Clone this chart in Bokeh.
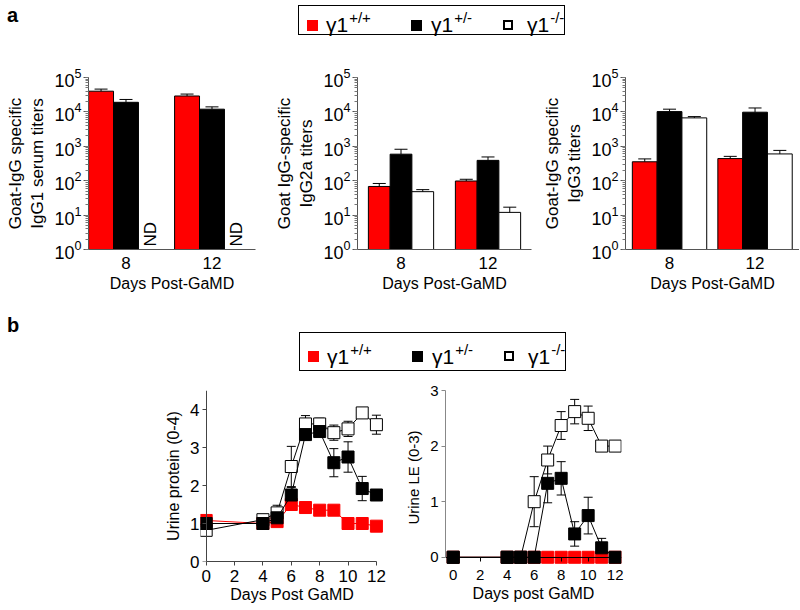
import numpy as np
from bokeh.plotting import figure
from bokeh.models import (ColumnDataSource, Range1d, LinearAxis, FixedTicker,
                          Whisker, TeeHead, Div)
from bokeh.layouts import column, row
from bokeh.transform import dodge
from bokeh.embed import file_html
from bokeh.resources import INLINE

FONT = "Liberation Sans"
RED = "#ff0000"

# ---------------- panel a data (titers, bar top and upper error) ----------------
days_a = ["8", "12"]
geno_sup = ["+/+", "+/-", "-/-"]

igg1_wt = [40000, 29000]
igg1_wt_hi = [46000, 33000]
igg1_het = [19000, 12000]
igg1_het_hi = [23000, 14000]
igg1_ko = [None, None]          # ND
igg1_ko_hi = [None, None]

igg2a_wt = [68, 98]
igg2a_wt_hi = [83, 110]
igg2a_het = [590, 390]
igg2a_het_hi = [820, 490]
igg2a_ko = [48, 12]
igg2a_ko_hi = [55, 17]

igg3_wt = [355, 440]
igg3_wt_hi = [430, 510]
igg3_het = [10200, 9800]
igg3_het_hi = [12000, 13000]
igg3_ko = [6700, 600]
igg3_ko_hi = [7300, 760]

# ---------------- panel b data ----------------
days_b = [0, 4, 5, 6, 7, 8, 9, 10, 11, 12]
x_ticks_b = [0, 2, 4, 6, 8, 10, 12]

prot_wt = [1.08, 1.0, 1.05, 1.5, 1.42, 1.35, 1.35, 1.0, 1.0, 0.93]
prot_wt_sem = [0.08, 0.05, 0.05, 0.1, 0.08, 0.05, 0.05, 0.05, 0.05, 0.08]
prot_het = [1.0, 1.0, 1.15, 1.75, 3.34, 3.42, 2.6, 2.75, 1.92, 1.75]
prot_het_sem = [0.1, 0.08, 0.1, 0.2, 0.15, 0.12, 0.37, 0.4, 0.32, 0.1]
prot_ko = [0.82, 1.1, 1.28, 2.5, 3.62, 3.62, 3.39, 3.49, 3.91, 3.6]
prot_ko_sem = [0.05, 0.1, 0.2, 0.53, 0.22, 0.15, 0.2, 0.2, 0.05, 0.25]
prot_yticks = [0, 1, 2, 3, 4]

le_wt = [0, 0, 0, 0, 0, 0, 0, 0, 0, 0]
le_wt_sem = [0, 0, 0, 0, 0, 0, 0, 0, 0, 0]
le_het = [0, 0, 0, 0, 1.33, 1.42, 0.42, 0.75, 0.17, 0]
le_het_sem = [0, 0, 0, 0, 0.35, 0.3, 0.22, 0.33, 0.17, 0]
le_ko = [0, 0, 0, 1.0, 1.75, 2.37, 2.62, 2.5, 2.0, 2.0]
le_ko_sem = [0, 0, 0, 0.45, 0.25, 0.25, 0.22, 0.22, 0, 0]
le_yticks = [0, 1, 2, 3]


def style_axis(ax, label_size, tick_size):
    ax.axis_label_text_font = FONT
    ax.axis_label_text_font_style = "normal"
    ax.axis_label_text_font_size = label_size
    ax.major_label_text_font = FONT
    ax.major_label_text_font_size = tick_size
    ax.axis_label_text_color = "black"
    ax.major_label_text_color = "black"


def nan_list(vals):
    return np.array([np.nan if v is None else v for v in vals], dtype=float)


def bar_panel(ylabel, wt, wt_hi, het, het_hi, ko, ko_hi, xr, bw, fw, mbl, mbr):
    p = figure(x_range=Range1d(*xr), y_range=Range1d(1, 1e5), y_axis_type="log",
               frame_width=fw, frame_height=172, min_border_left=mbl,
               min_border_right=mbr, min_border_top=35, min_border_bottom=60,
               output_backend="svg", toolbar_location=None)
    p.xgrid.visible = False
    p.ygrid.visible = False
    p.outline_line_color = None
    src = ColumnDataSource(dict(pos=list(range(len(days_a))),
                                wt=nan_list(wt), wt_hi=nan_list(wt_hi),
                                het=nan_list(het), het_hi=nan_list(het_hi),
                                ko=nan_list(ko), ko_hi=nan_list(ko_hi)))
    series = [("wt", -bw, RED), ("het", 0.0, "black"), ("ko", bw, "white")]
    for key, off, col in series:
        p.vbar(x=dodge("pos", off, range=p.x_range), top=key, bottom=1, width=bw,
               source=src, fill_color=col, line_color="black", line_width=1)
        p.add_layout(Whisker(source=src, base=dodge("pos", off, range=p.x_range),
                             upper=key + "_hi", lower=key, dimension="height",
                             line_color="black", line_width=1,
                             upper_head=TeeHead(size=13, line_color="black", line_width=1),
                             lower_head=None, level="overlay"))
    nd_pos = [i for i, v in enumerate(ko) if v is None]
    if nd_pos:
        nd = ColumnDataSource(dict(pos=nd_pos, txt=["ND"] * len(nd_pos)))
        p.text(x=dodge("pos", bw, range=p.x_range), y=1, text="txt", source=nd,
               angle=np.pi / 2, text_align="left", text_baseline="middle",
               text_font_size="17px", text_font={"value": FONT}, y_offset=-3,
               text_color="black")
    p.xaxis.ticker = FixedTicker(ticks=list(range(len(days_a))))
    p.xaxis.major_label_overrides = {i: d for i, d in enumerate(days_a)}
    p.xaxis.major_tick_line_color = None
    p.xaxis.minor_tick_line_color = None
    p.xaxis.major_tick_out = 0
    p.xaxis.axis_line_color = "#555555"
    p.xaxis.axis_label = "Days Post-GaMD"
    p.xaxis.major_label_standoff = 7
    p.xaxis.axis_label_standoff = 3
    style_axis(p.xaxis[0], "16px", "17px")
    p.yaxis.axis_label = ylabel
    p.yaxis.axis_line_color = "#555555"
    p.yaxis.major_tick_line_color = "#555555"
    p.yaxis.minor_tick_line_color = "#777777"
    p.yaxis.major_tick_out = 5
    p.yaxis.major_tick_in = 0
    p.yaxis.minor_tick_out = 3
    p.yaxis.minor_tick_in = 0
    p.yaxis.major_label_standoff = 2
    p.yaxis.axis_label_standoff = 4
    style_axis(p.yaxis[0], "17px", "18px")
    return p


p1 = bar_panel("Goat-IgG specific\nIgG1 serum titers", igg1_wt, igg1_wt_hi,
               igg1_het, igg1_het_hi, igg1_ko, igg1_ko_hi,
               (-0.436, 1.506), 0.29, 167, 88, 7)
p2 = bar_panel("Goat IgG-specific\nIgG2a titers", igg2a_wt, igg2a_wt_hi,
               igg2a_het, igg2a_het_hi, igg2a_ko, igg2a_ko_hi,
               (-0.5, 1.5), 0.25, 174, 95, 8)
p3 = bar_panel("Goat-IgG specific\nIgG3 titers", igg3_wt, igg3_wt_hi,
               igg3_het, igg3_het_hi, igg3_ko, igg3_ko_hi,
               (-0.515, 1.52), 0.29, 174, 81, 0)


def add_series(p, y, sem, color, fill, size):
    y = np.array(y, dtype=float)
    sem = np.array(sem, dtype=float)
    src = ColumnDataSource(dict(day=days_b, y=y, lo=y - sem, hi=y + sem))
    p.line("day", "y", source=src, line_color=color, line_width=1)
    p.add_layout(Whisker(source=src, base="day", upper="hi", lower="lo",
                         dimension="height", line_color=color, line_width=1,
                         upper_head=TeeHead(size=9, line_color=color, line_width=1),
                         lower_head=TeeHead(size=9, line_color=color, line_width=1)))
    p.scatter("day", "y", source=src, marker="square", size=size,
              fill_color=fill, line_color=color, line_width=1)


def line_only_axis(ax, color):
    ax.major_label_text_color = None
    ax.major_label_text_font_size = "1px"
    ax.major_tick_out = 4
    ax.major_tick_in = 0
    ax.minor_tick_line_color = None
    ax.axis_line_color = color
    ax.major_tick_line_color = color


def label_only_axis(ax, standoff):
    ax.axis_line_color = None
    ax.major_tick_line_color = None
    ax.minor_tick_line_color = None
    ax.major_tick_out = 0
    ax.major_tick_in = 0
    ax.major_label_standoff = standoff


# ---- urine protein ----
pp = figure(x_range=Range1d(-0.4, 12.5), y_range=Range1d(0, 4.5),
            frame_width=183, frame_height=171, min_border_left=200,
            min_border_right=6, min_border_top=8, min_border_bottom=50,
            output_backend="svg", toolbar_location=None)
pp.xgrid.visible = False
pp.ygrid.visible = False
pp.outline_line_color = None
# labels of the y axis (at the frame edge) + axis line and ticks at day 0
pp.yaxis.ticker = FixedTicker(ticks=prot_yticks)
pp.yaxis.axis_label = "Urine protein (0-4)"
label_only_axis(pp.yaxis[0], 1)
pp.yaxis.axis_label_standoff = 5
style_axis(pp.yaxis[0], "16px", "17px")
yline = LinearAxis(fixed_location=0, bounds=(0, 4.5), ticker=FixedTicker(ticks=prot_yticks))
line_only_axis(yline, "#444444")
pp.add_layout(yline, "left")
pp.xaxis.ticker = FixedTicker(ticks=x_ticks_b)
pp.xaxis.bounds = (0, 12)
pp.xaxis.axis_label = "Days Post GaMD"
pp.xaxis.major_tick_out = 4
pp.xaxis.major_tick_in = 0
pp.xaxis.minor_tick_line_color = None
pp.xaxis.axis_line_color = "#444444"
pp.xaxis.major_tick_line_color = "#444444"
pp.xaxis.major_label_standoff = 4
pp.xaxis.axis_label_standoff = 1
style_axis(pp.xaxis[0], "16px", "17px")
add_series(pp, prot_wt, prot_wt_sem, RED, RED, 12)
add_series(pp, prot_ko, prot_ko_sem, "black", "white", 12)
add_series(pp, prot_het, prot_het_sem, "black", "black", 12)

# ---- urine LE ----
pl = figure(x_range=Range1d(-0.57, 12.47), y_range=Range1d(-0.13, 3.0),
            frame_width=176, frame_height=174, min_border_left=56,
            min_border_right=10, min_border_top=12, min_border_bottom=43,
            output_backend="svg", toolbar_location=None)
pl.xgrid.visible = False
pl.ygrid.visible = False
pl.outline_line_color = None
pl.xaxis.ticker = FixedTicker(ticks=x_ticks_b)
pl.xaxis.axis_label = "Days post GaMD"
label_only_axis(pl.xaxis[0], 5)
pl.xaxis.axis_label_standoff = 2
style_axis(pl.xaxis[0], "16px", "15px")
xline = LinearAxis(fixed_location=0, ticker=FixedTicker(ticks=x_ticks_b))
line_only_axis(xline, "black")
pl.add_layout(xline, "below")
pl.yaxis.ticker = FixedTicker(ticks=le_yticks)
pl.yaxis.bounds = (0, 3)
pl.yaxis.axis_label = "Urine LE (0-3)"
pl.yaxis.major_tick_out = 4
pl.yaxis.major_tick_in = 0
pl.yaxis.minor_tick_line_color = None
pl.yaxis.axis_line_color = "#888888"
pl.yaxis.major_tick_line_color = "#888888"
pl.yaxis.major_label_standoff = 3
pl.yaxis.axis_label_standoff = 5
style_axis(pl.yaxis[0], "15px", "15px")
add_series(pl, le_wt, le_wt_sem, RED, RED, 12)
add_series(pl, le_ko, le_ko_sem, "black", "white", 12)
add_series(pl, le_het, le_het_sem, "black", "black", 12)


# ---------------- legends and panel letters ----------------
def legend_div(box_h, margin_top, sq_top, txt_top):
    swatches = [
        "background:#ff0000;width:11px;height:11px;",
        "background:#000000;width:11px;height:11px;",
        "background:#ffffff;border:2px solid #000;width:10px;height:10px;",
    ]
    sq_left = [8, 112, 204]
    txt_left = [27, 132, 228]
    parts = []
    for i, sup in enumerate(geno_sup):
        parts.append(
            f'<span style="position:absolute;left:{sq_left[i]}px;top:{sq_top}px;{swatches[i]}"></span>'
            f'<span style="position:absolute;left:{txt_left[i]}px;top:{txt_top}px;white-space:nowrap;'
            f'line-height:1;">γ1<span style="font-size:15px;position:relative;top:-9px;'
            f'margin-left:1px;">{sup}</span></span>')
    html = (f'<div style="position:relative;margin-top:{margin_top}px;width:267px;height:{box_h}px;'
            f'border:1px solid #000;font-family:\'{FONT}\';font-size:21px;color:#000;">'
            + "".join(parts) + "</div>")
    return html


letter_style = f"font-family:'{FONT}';font-weight:bold;font-size:20px;line-height:1;padding-left:7px;"
div_a = Div(text=f'<div style="{letter_style}padding-top:5px;">a</div>', width=298, height=42, margin=0)
leg_a = Div(text=legend_div(30, 5, 14, 8), width=300, height=42, margin=0)
div_b = Div(text=f'<div style="{letter_style}padding-top:6px;">b</div>', width=299, height=69, margin=0)
leg_b = Div(text=legend_div(39, 23, 18, 13), width=300, height=69, margin=0)

layout = column(row(div_a, leg_a), row(p1, p2, p3), row(div_b, leg_b), row(pp, pl))

with open("out.html", "w") as f:
    f.write(file_html(layout, INLINE))
